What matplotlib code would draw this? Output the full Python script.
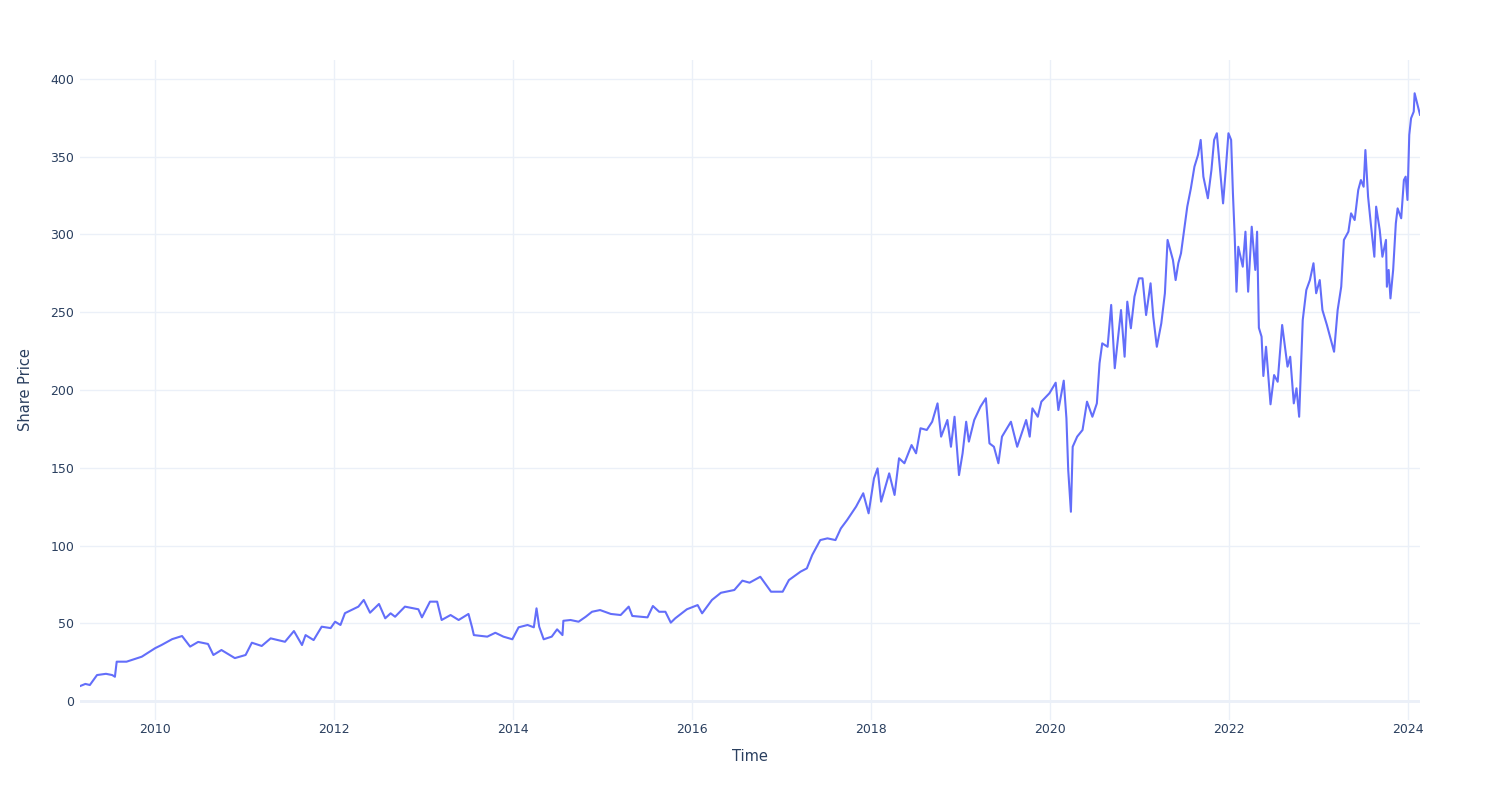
import matplotlib.pyplot as plt

# share price (decimal year, price)
years = [
    2009.16, 2009.22, 2009.27, 2009.35, 2009.45, 2009.52, 2009.55, 2009.57, 2009.68, 2009.85,
    2010.00, 2010.07, 2010.19, 2010.30, 2010.39, 2010.48, 2010.59, 2010.65, 2010.74, 2010.89,
    2011.01, 2011.08, 2011.19, 2011.29, 2011.45, 2011.55, 2011.64, 2011.68, 2011.77, 2011.86,
    2011.96, 2012.01, 2012.07, 2012.12, 2012.27, 2012.33, 2012.40, 2012.50, 2012.57, 2012.63,
    2012.68, 2012.79, 2012.94, 2012.98, 2013.07, 2013.15, 2013.20, 2013.30, 2013.39, 2013.50,
    2013.54, 2013.56, 2013.71, 2013.80, 2013.89, 2013.99, 2014.06, 2014.16, 2014.23, 2014.26,
    2014.29, 2014.34, 2014.43, 2014.49, 2014.55, 2014.56, 2014.64, 2014.73, 2014.81, 2014.88,
    2014.97, 2015.09, 2015.20, 2015.29, 2015.33, 2015.50, 2015.56, 2015.63, 2015.70, 2015.76,
    2015.81, 2015.94, 2016.06, 2016.11, 2016.22, 2016.32, 2016.47, 2016.56, 2016.64, 2016.76,
    2016.88, 2017.01, 2017.08, 2017.21, 2017.28, 2017.34, 2017.43, 2017.51, 2017.60, 2017.66,
    2017.73, 2017.83, 2017.91, 2017.97, 2018.03, 2018.07, 2018.11, 2018.20, 2018.26, 2018.31,
    2018.37, 2018.45, 2018.50, 2018.55, 2018.62, 2018.68, 2018.74, 2018.78, 2018.85, 2018.89,
    2018.93, 2018.98, 2019.02, 2019.06, 2019.09, 2019.15, 2019.22, 2019.28, 2019.32, 2019.37,
    2019.42, 2019.46, 2019.56, 2019.63, 2019.73, 2019.77, 2019.80, 2019.86, 2019.90, 2019.99,
    2020.06, 2020.09, 2020.15, 2020.18, 2020.20, 2020.23, 2020.25, 2020.30, 2020.36, 2020.41,
    2020.47, 2020.52, 2020.55, 2020.58, 2020.64, 2020.68, 2020.72, 2020.79, 2020.83, 2020.86,
    2020.90, 2020.94, 2020.99, 2021.03, 2021.07, 2021.12, 2021.15, 2021.19, 2021.24, 2021.28,
    2021.31, 2021.37, 2021.40, 2021.43, 2021.46, 2021.50, 2021.53, 2021.57, 2021.61, 2021.65,
    2021.68, 2021.71, 2021.76, 2021.80, 2021.83, 2021.86, 2021.91, 2021.93, 2021.96, 2021.99,
    2022.02, 2022.04, 2022.06, 2022.08, 2022.10, 2022.15, 2022.18, 2022.21, 2022.25, 2022.29,
    2022.31, 2022.33, 2022.36, 2022.38, 2022.41, 2022.46, 2022.50, 2022.54, 2022.59, 2022.65,
    2022.68, 2022.72, 2022.75, 2022.78, 2022.82, 2022.86, 2022.90, 2022.94, 2022.97, 2023.01,
    2023.04, 2023.09, 2023.14, 2023.17, 2023.21, 2023.25, 2023.28, 2023.33, 2023.36, 2023.40,
    2023.44, 2023.47, 2023.50, 2023.52, 2023.55, 2023.58, 2023.62, 2023.64, 2023.68, 2023.71,
    2023.75, 2023.76, 2023.78, 2023.80, 2023.83, 2023.86, 2023.88, 2023.92, 2023.95, 2023.97,
    2023.99, 2024.01, 2024.03, 2024.06, 2024.07, 2024.13,
]
prices = [
    9.6, 11.0, 10.3, 16.7, 17.5, 16.7, 15.6, 25.3, 25.3, 28.5,
    34.0, 36.0, 39.8, 41.8, 35.0, 38.0, 36.7, 29.6, 32.8, 27.6,
    29.6, 37.5, 35.4, 40.3, 38.1, 45.0, 36.0, 42.4, 39.2, 47.8,
    46.9, 51.0, 48.9, 56.5, 60.7, 65.0, 56.8, 62.4, 53.2, 56.4,
    54.2, 60.7, 59.0, 53.8, 63.9, 63.9, 52.1, 55.3, 52.1, 56.0,
    47.4, 42.4, 41.4, 43.9, 41.4, 39.7, 47.4, 48.9, 47.4, 59.6,
    47.8, 39.7, 41.4, 46.1, 42.4, 51.6, 52.1, 51.0, 54.2, 57.4,
    58.5, 56.0, 55.3, 60.7, 54.7, 53.8, 61.1, 57.4, 57.4, 50.4,
    53.2, 59.0, 61.7, 56.4, 65.0, 69.6, 71.4, 77.4, 76.1, 79.9,
    70.3, 70.3, 77.8, 83.2, 85.3, 93.9, 103.5, 104.6, 103.5, 111.0,
    116.4, 125.0, 133.6, 120.7, 143.2, 149.6, 128.2, 146.4, 132.5, 156.1,
    152.9, 164.6, 159.3, 175.4, 174.3, 179.6, 191.4, 170.0, 180.7, 163.5,
    182.8, 145.3, 159.3, 179.6, 166.8, 180.7, 189.3, 194.7, 165.7, 163.5,
    152.9, 170.0, 179.6, 163.5, 180.7, 170.0, 188.2, 182.8, 192.5, 197.9,
    204.7, 187.1, 206.0, 181.8, 148.6, 121.7, 163.5, 170.0, 174.3, 192.5,
    182.8, 191.4, 217.2, 230.0, 227.8, 254.7, 214.0, 251.4, 221.4, 256.8,
    239.7, 260.0, 271.8, 271.8, 248.2, 268.6, 247.1, 227.8, 242.9, 262.2,
    296.5, 283.6, 270.7, 281.5, 287.9, 305.0, 317.9, 329.6, 343.6, 351.1,
    360.8, 337.2, 323.3, 341.5, 360.8, 365.1, 332.9, 320.0, 341.5, 365.1,
    360.8, 326.5, 298.6, 263.2, 292.1, 279.3, 301.8, 263.2, 305.0, 277.2,
    301.8, 240.0, 234.3, 209.0, 227.8, 190.8, 209.6, 205.3, 241.8, 215.0,
    221.4, 191.4, 201.1, 182.8, 245.0, 264.3, 270.7, 281.5, 262.2, 270.7,
    251.4, 241.8, 231.0, 224.6, 251.4, 266.4, 296.5, 301.8, 313.6, 309.3,
    328.6, 335.0, 330.7, 354.3, 324.3, 307.2, 285.7, 317.9, 302.9, 285.7,
    296.5, 266.4, 277.2, 258.9, 277.2, 307.2, 316.8, 310.4, 335.0, 337.2,
    322.2, 364.0, 374.7, 379.0, 390.8, 377.0,
]

x_ticks = [2010, 2012, 2014, 2016, 2018, 2020, 2022, 2024]
y_ticks = [0, 50, 100, 150, 200, 250, 300, 350, 400]

text_col = '#2a3f5f'
grid_col = '#ebf0f8'

fig = plt.figure(figsize=(15, 8), dpi=100)
ax = fig.add_axes([80 / 1500, 80 / 800, 1340 / 1500, 660 / 800])

ax.plot(years, prices, color='#636efa', linewidth=1.5, zorder=3)

ax.set_xlim(years[0], years[-1])
ax.set_ylim(-12.2, 412.2)
ax.set_xticks(x_ticks)
ax.set_xticklabels([str(t) for t in x_ticks])
ax.set_yticks(y_ticks)
ax.set_yticklabels([str(t) for t in y_ticks])

ax.grid(True, color=grid_col, linewidth=1, zorder=0)
ax.axhline(0, color=grid_col, linewidth=2, zorder=1)
for s in ax.spines.values():
    s.set_visible(False)
ax.tick_params(length=0, colors=text_col, labelsize=9)
ax.tick_params(axis='x', pad=2.5)
ax.tick_params(axis='y', pad=4)

ax.set_xlabel('Time', fontsize=10.5, color=text_col, labelpad=9)
ax.set_ylabel('Share Price', fontsize=10.5, color=text_col, labelpad=13)

fig.savefig('out.png', dpi=100, facecolor='white')
